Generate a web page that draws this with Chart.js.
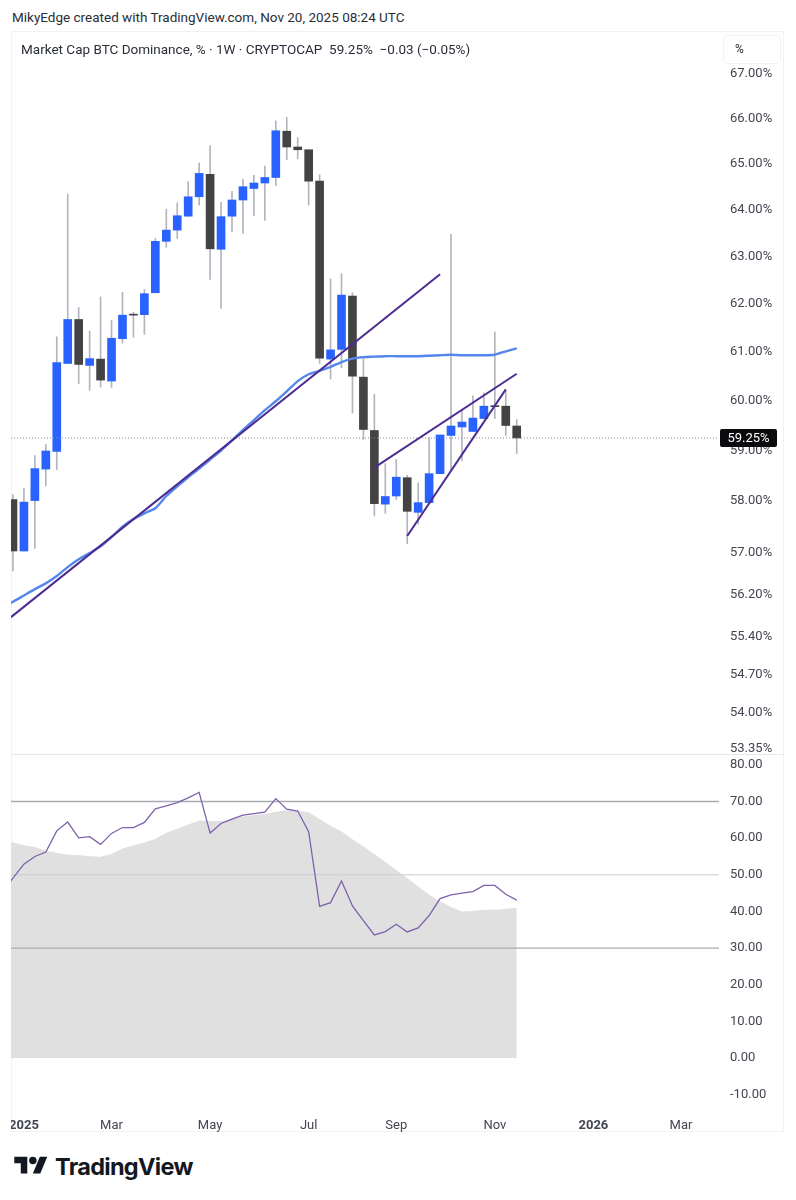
<!DOCTYPE html>
<html>
<head>
<meta charset="utf-8">
<script src="https://cdn.jsdelivr.net/npm/chart.js@4"></script>
<style>
    body { margin: 0; background: #fff; font-family: Roboto, sans-serif; color: #2a2e39; }
    #page { position: relative; width: 796px; height: 1200px; overflow: hidden; }
    #page div, #page canvas, #page svg { position: absolute; }
    #credit { left: 12px; top: 9px; font-size: 13.5px; white-space: pre; }
    #frame { left: 11px; top: 31px; width: 773px; height: 1101px; border: 1px solid #f0f3f6; box-sizing: border-box; }
    #legend { left: 21px; top: 41px; font-size: 13.5px; white-space: pre; }
    #unit { left: 723px; top: 35px; width: 58px; height: 29px; box-sizing: border-box; border: 1px solid #f0f3f6; border-radius: 4px; font-size: 12px; padding: 6px 0 0 11px; }
    #sep { left: 11px; top: 754px; width: 773px; height: 1px; background: #e6e8ec; }
    #mainChart { left: 11px; top: 32px; }
    #rsiChart { left: 11px; top: 755px; }
    #brand { left: 55px; top: 1152px; font: 700 23.5px Inter, sans-serif; color: #131722; letter-spacing: -0.7px; }
</style>
</head>
<body>
<div id="page">
    <div id="credit">MikyEdge created with TradingView.com, Nov 20, 2025 08:24 UTC</div>
    <div id="frame"></div>
    <canvas id="mainChart" width="773" height="722"></canvas>
    <canvas id="rsiChart" width="773" height="377"></canvas>
    <div id="sep"></div>
    <div id="legend">Market Cap BTC Dominance, % · 1W · CRYPTOCAP  59.25%  −0.03 (−0.05%)</div>
    <div id="unit">%</div>
    <svg style="left:14px;top:1153px" width="34" height="26" viewBox="0 0 36 28"><path fill="#131722" d="M14 22H7V11H0V4h14v18zM28 22h-8l7.5-18h8L28 22z"/><circle fill="#131722" cx="20" cy="8" r="4"/></svg>
    <div id="brand">TradingView</div>
</div>
<script>
// Candles, one per week (week 0 is the partly hidden one at the left edge)
const openValues = [58.03,57.03,58.01,58.63,58.98,60.76,61.67,60.72,60.85,60.40,61.27,61.78,61.77,62.23,63.32,63.56,63.86,64.28,64.77,63.15,63.86,64.21,64.46,64.58,64.70,65.72,65.37,65.31,64.62,60.85,61.05,62.16,60.48,59.40,57.94,58.10,58.46,57.78,57.97,58.54,59.30,59.47,59.38,59.64,59.89,59.89,59.49];
const closeValues = [57.03,57.98,58.64,58.99,60.78,61.67,60.74,60.86,60.42,61.28,61.76,61.76,62.21,63.32,63.56,63.87,64.28,64.79,63.16,63.85,64.21,64.50,64.58,64.70,65.73,65.37,65.31,64.62,60.87,61.04,62.18,60.50,59.42,57.95,58.09,58.47,57.80,57.97,58.54,59.31,59.49,59.57,59.65,59.89,59.88,59.50,59.25];
const highValues = [58.13,58.25,58.90,59.12,61.31,64.34,61.92,61.43,62.14,61.65,62.24,61.82,62.30,63.38,64.01,64.15,64.61,65.02,65.40,64.16,64.40,64.66,64.75,64.95,65.95,66.03,65.58,65.31,64.76,62.52,62.63,62.23,60.86,60.13,58.74,58.82,58.51,58.36,59.26,59.31,63.47,59.81,60.10,60.16,61.41,60.20,59.62];
const lowValues = [56.65,57.03,57.08,58.30,58.62,60.76,60.35,60.21,60.28,60.27,61.18,61.30,61.36,62.23,63.19,63.38,63.86,64.10,62.51,61.90,63.52,63.49,63.87,63.77,64.52,65.09,65.11,64.10,60.76,60.44,60.67,59.75,59.22,57.71,57.76,58.03,57.17,57.55,57.97,58.54,58.60,58.79,59.38,59.64,59.64,59.30,58.94];

// Moving average, RSI and its average start one week earlier, off the left edge
const maValues = [55.95,56.06,56.18,56.30,56.41,56.55,56.72,56.87,56.99,57.12,57.30,57.50,57.65,57.76,57.86,58.10,58.29,58.47,58.64,58.82,59.00,59.20,59.41,59.61,59.81,59.99,60.19,60.40,60.54,60.61,60.69,60.79,60.86,60.89,60.90,60.91,60.91,60.91,60.91,60.92,60.93,60.94,60.93,60.93,60.93,60.94,61.01,61.07];
const rsiValues = [45.3,49.1,52.9,55.0,56.2,62.0,64.4,60.1,60.4,58.3,61.3,62.9,62.9,64.3,68.0,68.8,69.7,71.0,72.5,61.4,64.0,65.2,66.3,66.7,67.1,70.8,67.9,67.4,61.8,41.4,42.4,48.3,41.5,37.5,33.6,34.5,36.5,34.4,35.5,38.9,43.5,44.5,45.0,45.4,47.1,47.1,44.7,43.1];
const rsiAvgValues = [59.2,58.9,58.1,57.6,56.6,56.0,55.5,55.4,55.1,54.9,55.7,57.2,58.1,58.8,59.8,61.5,62.6,63.7,64.8,64.7,64.7,65.1,65.9,66.3,66.6,67.2,67.6,67.5,67.1,65.2,63.4,61.8,59.7,57.7,55.7,53.5,51.3,49.1,46.8,44.6,42.7,41.2,40.0,40.1,40.5,40.5,40.7,41.0];

// Trend lines: [week, value] at both ends
const trendMain = [[-0.18, 55.77], [39, 62.62]];
const trendUpper = [[33, 58.66], [46, 60.55]];
const trendLower = [[36, 57.32], [45, 60.23]];

// Axes
const priceTicks = [67, 66, 65, 64, 63, 62, 61, 60, 59, 58, 57, 56.2, 55.4, 54.7, 54, 53.35];
const rsiTicks = [80, 70, 60, 50, 40, 30, 20, 10, 0, -10];
const rsiLevels = [70, 50, 30];
const monthWeeks = [1, 9, 18, 27, 35, 44, 53, 61];
const monthLabels = ['2025', 'Mar', 'May', 'Jul', 'Sep', 'Nov', '2026', 'Mar'];
const lastPrice = 59.25;

const weekMin = -0.18;
const weekMax = 64.47;
const tickColor = '#434651';
const axisFont = { family: 'Roboto', size: 13 };

function pickCandles(isUp, getY) {
    const out = [];
    openValues.forEach((o, i) => {
        if ((closeValues[i] >= o) === isUp) out.push({ x: i, y: getY(i) });
    });
    return out;
}

function segment(pair) {
    return pair.map(p => ({ x: p[0], y: p[1] }));
}

function fromWeekMinusOne(values) {
    return values.map((y, i) => ({ x: i - 1, y }));
}

function trendDataset(pair) {
    return { type: 'line', data: segment(pair), borderColor: '#4d2c91', borderWidth: 2, pointRadius: 0, order: 0 };
}

// Scale helpers shared by both panes
function fitValueAxis(scale) {
    scale.width = 65;
    scale.paddingTop = 0;
    scale.paddingBottom = 0;
}

const lastPriceTag = {
    id: 'lastPriceTag',
    afterDraw(chart) {
        const { ctx } = chart;
        const y = chart.scales.y.getPixelForValue(lastPrice);
        ctx.save();
        ctx.fillStyle = '#0b0b0e';
        ctx.beginPath();
        ctx.roundRect(709, y - 9, 57, 18, 2);
        ctx.fill();
        ctx.fillStyle = '#fff';
        ctx.font = '13px Roboto';
        ctx.textAlign = 'center';
        ctx.textBaseline = 'middle';
        ctx.fillText(lastPrice.toFixed(2) + '%', 737.5, y + 0.5);
        ctx.restore();
    }
};

new Chart(document.getElementById('mainChart').getContext('2d'), {
    type: 'bar',
    data: {
        datasets: [
            { data: pickCandles(true, i => [lowValues[i], highValues[i]]), backgroundColor: '#b2b5be', barThickness: 1, grouped: false, order: 6 },
            { data: pickCandles(false, i => [lowValues[i], highValues[i]]), backgroundColor: '#b2b5be', barThickness: 1, grouped: false, order: 6 },
            { data: pickCandles(true, i => [openValues[i], closeValues[i]]), backgroundColor: '#2962ff', barThickness: 8, minBarLength: 1, grouped: false, order: 5 },
            { data: pickCandles(false, i => [closeValues[i], openValues[i]]), backgroundColor: '#434343', barThickness: 8, minBarLength: 1, grouped: false, order: 5 },
            { type: 'line', data: [{ x: weekMin, y: lastPrice }, { x: weekMax, y: lastPrice }], borderColor: '#8a8d96', borderWidth: 1, borderDash: [1, 2], pointRadius: 0, order: 4 },
            { type: 'line', data: fromWeekMinusOne(maValues), borderColor: '#5586ec', borderWidth: 2.4, pointRadius: 0, tension: 0.2, order: 3 },
            trendDataset(trendMain),
            trendDataset(trendUpper),
            trendDataset(trendLower)
        ]
    },
    options: {
        responsive: false,
        animation: false,
        layout: { padding: 0 },
        plugins: { legend: { display: false }, tooltip: { enabled: false } },
        scales: {
            x: { type: 'linear', min: weekMin, max: weekMax, offset: false, display: false },
            y: {
                type: 'logarithmic',
                position: 'right',
                bounds: 'data',
                min: 53.25,
                max: 67.96,
                grid: { display: false },
                border: { display: false },
                afterBuildTicks: scale => { scale.ticks = priceTicks.map(value => ({ value })); },
                afterFit: fitValueAxis,
                ticks: {
                    autoSkip: false,
                    color: tickColor,
                    font: axisFont,
                    crossAlign: 'near',
                    padding: 3,
                    callback: value => value.toFixed(2) + '%'
                }
            }
        }
    },
    plugins: [lastPriceTag]
});

new Chart(document.getElementById('rsiChart').getContext('2d'), {
    type: 'line',
    data: {
        datasets: [
            { data: fromWeekMinusOne(rsiValues), borderColor: '#7e62ab', borderWidth: 1.3, pointRadius: 0, order: 0 },
            ...rsiLevels.map(level => ({
                data: [{ x: weekMin, y: level }, { x: weekMax, y: level }],
                borderColor: level === 50 ? '#c9cbd0' : '#a9abb2',
                borderWidth: level === 50 ? 1 : 1.4,
                pointRadius: 0,
                order: 1
            })),
            { data: fromWeekMinusOne(rsiAvgValues), borderColor: '#e0e0e0', borderWidth: 0, backgroundColor: '#e0e0e0', fill: { value: 0 }, pointRadius: 0, order: 2 }
        ]
    },
    options: {
        responsive: false,
        animation: false,
        layout: { padding: 0 },
        plugins: { legend: { display: false }, tooltip: { enabled: false } },
        scales: {
            x: {
                type: 'linear',
                min: weekMin,
                max: weekMax,
                grid: { display: false },
                border: { display: false },
                afterBuildTicks: scale => { scale.ticks = monthWeeks.map(value => ({ value })); },
                afterFit: scale => {
                    scale.height = 30;
                    scale.paddingLeft = 0;
                    scale.paddingRight = 0;
                },
                ticks: {
                    autoSkip: false,
                    maxRotation: 0,
                    color: tickColor,
                    padding: 8,
                    font: ctx => {
                        const label = ctx.tick ? monthLabels[monthWeeks.indexOf(ctx.tick.value)] : '';
                        return { family: 'Roboto', size: 13, weight: label.length === 4 ? '700' : '400' };
                    },
                    callback: value => monthLabels[monthWeeks.indexOf(value)]
                }
            },
            y: {
                type: 'linear',
                position: 'right',
                min: -12,
                max: 82.7,
                grid: { display: false },
                border: { display: false },
                afterBuildTicks: scale => { scale.ticks = rsiTicks.map(value => ({ value })); },
                afterFit: fitValueAxis,
                ticks: {
                    autoSkip: false,
                    color: tickColor,
                    font: axisFont,
                    crossAlign: 'near',
                    padding: 3,
                    callback: value => value.toFixed(2)
                }
            }
        }
    }
});
</script>
</body>
</html>
